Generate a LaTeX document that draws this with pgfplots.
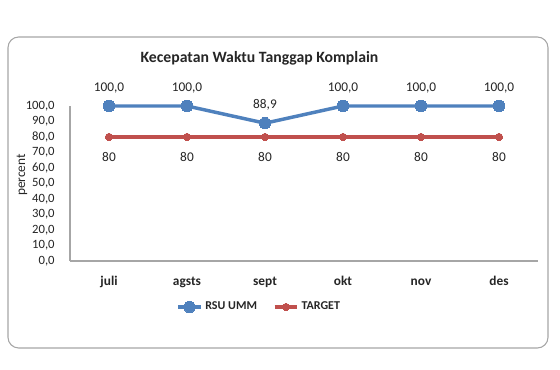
\documentclass[border=0pt]{standalone}
\usepackage{pgfplots}
\pgfplotsset{compat=1.18}
\usepackage{fontspec}
\setmainfont{Carlito}
\definecolor{rsublue}{HTML}{4F81BD}
\definecolor{tgtred}{HTML}{C0504D}
\definecolor{axgray}{HTML}{A6A6A6}
\begin{document}
\begin{tikzpicture}
\path[use as bounding box] (0,0) rectangle (420pt,277.5pt);
\draw[color=gray!70, line width=0.8pt, rounded corners=8pt, fill=white] (6pt,16.5pt) rectangle (411pt,249.75pt);
\node[font=\fontsize{11.8}{14}\selectfont\bfseries, text=black!85] at (194.6pt,234pt) {Kecepatan Waktu Tanggap Komplain};
\begin{axis}[
  at={(52.5pt,81.75pt)}, anchor=south west,
  scale only axis, width=351pt, height=116.25pt,
  xmin=-0.5, xmax=5.5, ymin=0, ymax=100,
  xtick={0,1,2,3,4,5},
  xticklabels={juli,agsts,sept,okt,nov,des},
  ytick={0,10,...,100},
  axis x line=bottom, axis y line=left,
  axis line style={axgray, line width=0.8pt, -},
  major tick length=0pt,
  /pgf/number format/assume math mode=true,
  yticklabel={\pgfmathprintnumber[fixed,fixed zerofill,precision=1,use comma]{\tick}},
  yticklabel style={font=\fontsize{9.5}{11}\selectfont, text=black!85, xshift=-8pt},
  xticklabel style={font=\fontsize{10}{12}\selectfont\bfseries, text=black!85, text height=1.6ex, text depth=0.45ex, yshift=-7pt},
  ylabel={percent},
  ylabel style={at={(axis description cs:-0.1026,0.555)}, anchor=center, font=\fontsize{10}{12}\selectfont, text=black!85},
  clip=false,
  legend columns=2,
  legend style={at={(axis description cs:0.405,-0.297)}, anchor=center, draw=none, fill=none,
    font=\fontsize{9}{11}\selectfont\bfseries, text=black!85,
    /tikz/every even column/.append style={column sep=10pt}},
  legend cell align=left,
]
\addplot[rsublue, line width=2.6pt, mark=*, mark size=4.3pt, mark options={fill=rsublue, draw=rsublue, line width=0pt},
  nodes near coords={\pgfmathprintnumber[fixed,fixed zerofill,precision=1,use comma]{\pgfplotspointmeta}},
  point meta=explicit,
  every node near coord/.append style={anchor=center, yshift=13.5pt, font=\fontsize{10}{12}\selectfont, text=black!85}]
  coordinates {(0,100) [100] (1,100) [100] (2,88.9) [88.9] (3,100) [100] (4,100) [100] (5,100) [100]};
\addlegendentry{RSU UMM}
\addplot[tgtred, line width=2.4pt, mark=*, mark size=2.8pt, mark options={fill=tgtred, draw=tgtred, line width=0pt},
  nodes near coords={\pgfmathprintnumber[fixed,precision=0]{\pgfplotspointmeta}},
  point meta=explicit,
  every node near coord/.append style={anchor=center, yshift=-15pt, font=\fontsize{10}{12}\selectfont, text=black!85}]
  coordinates {(0,80) [80] (1,80) [80] (2,80) [80] (3,80) [80] (4,80) [80] (5,80) [80]};
\addlegendentry{TARGET}
\end{axis}
\end{tikzpicture}
\end{document}
